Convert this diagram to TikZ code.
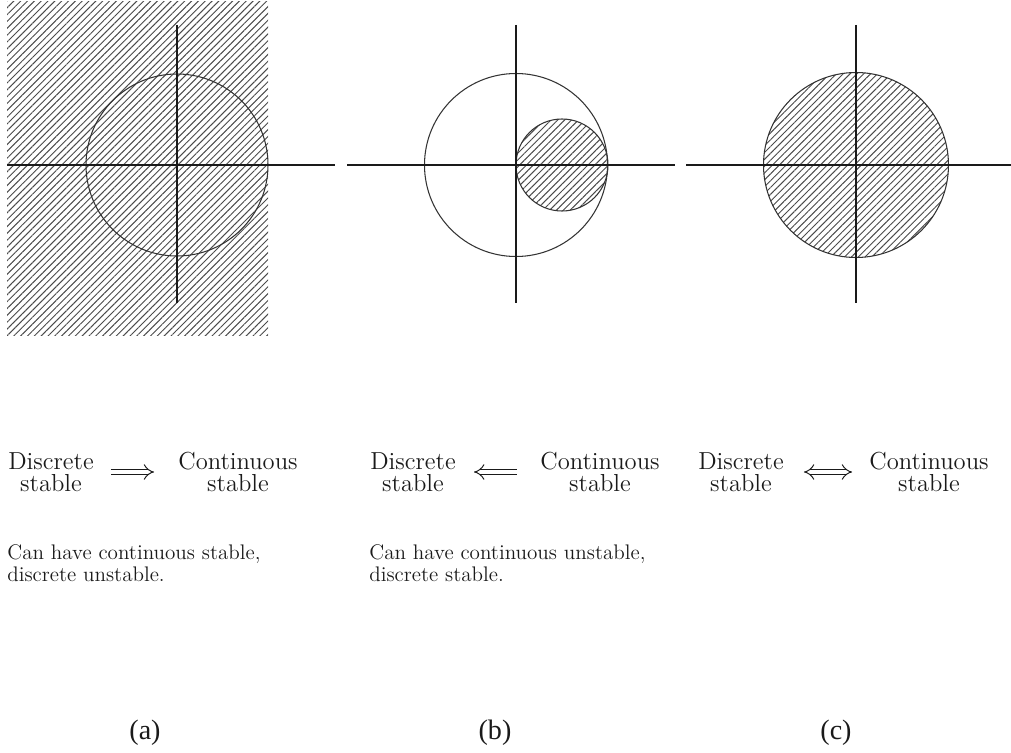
\documentclass[tikz,border=0pt]{standalone}
\usepackage{fontspec}
\newfontfamily\labfont{Liberation Serif}
\usetikzlibrary{arrows.meta,patterns.meta}
\definecolor{Ink}      {HTML}{1A1A1A}
\definecolor{HatchGrey}{HTML}{4A4A4A}
\definecolor{EdgeGrey} {HTML}{333333}

\tikzset{
  axis/.style={line width=0.75pt, Ink},
  region/.style={line width=0.6pt, EdgeGrey},
  hatch/.style={pattern={Lines[angle=45,distance=2.75pt,line width=0.55pt]}, pattern color=HatchGrey},
  stab/.style={align=center, inner sep=0pt, text=Ink, font=\fontsize{14}{12.5}\selectfont},
  remark/.style={align=left, anchor=north west, inner sep=0pt, text=Ink, font=\fontsize{12}{12.5}\selectfont},
  panel/.style={text=Ink, font=\labfont\fontsize{16}{18}\selectfont},
  imply/.style={double, double distance=2.6pt, line width=0.55pt, Ink}
}

\begin{document}
\begin{tikzpicture}[x=0.2mm, y=-0.2mm]
  \useasboundingbox (0,0) rectangle (1011,753);

  % ===== (a) whole plane hatched =====
  \fill[hatch] (7,2) rectangle (268,335);
  \draw[region] (177,165) circle (91);
  \draw[axis] (7,165) -- (335,165);
  \draw[axis] (177,25) -- (177,303);

  % ===== (b) small disc inside unit circle =====
  \draw[region] (516,165) circle (91.5);
  \draw[region, hatch] (562,165) circle (46);
  \draw[axis] (347,165) -- (675,165);
  \draw[axis] (516,25) -- (516,303);

  % ===== (c) unit disc hatched =====
  \draw[region, hatch] (856,165) circle (92.5);
  \draw[axis] (686,165) -- (1011,165);
  \draw[axis] (856,25) -- (856,303);

  % ===== implications =====
  \node[stab] (dA) at (51,472)  {Discrete\\stable};
  \node[stab] (cA) at (238,472) {Continuous\\stable};
  \draw[imply, -{Implies}, shorten <=9.6pt, shorten >=13.6pt] (dA) -- (cA);

  \node[stab] (dB) at (413,472) {Discrete\\stable};
  \node[stab] (cB) at (600,472) {Continuous\\stable};
  \draw[imply, {Implies}-, shorten <=10.2pt, shorten >=13pt] (dB) -- (cB);

  \node[stab] (dC) at (741,472) {Discrete\\stable};
  \node[stab] (cC) at (929,472) {Continuous\\stable};
  \draw[imply, {Implies}-{Implies}, shorten <=11.3pt, shorten >=9.6pt] (dC) -- (cC);

  % ===== remarks =====
  \node[remark] (rA) at (7,544)   {Can have continuous stable,\\discrete unstable.};
  \node[remark] (rB) at (369,544) {Can have continuous unstable,\\discrete stable.};

  % ===== panel labels =====
  \node[panel] (pA) at (145,733) {(a)};
  \node[panel] (pB) at (495,733) {(b)};
  \node[panel] (pC) at (836,733) {(c)};

\end{tikzpicture}
\end{document}
